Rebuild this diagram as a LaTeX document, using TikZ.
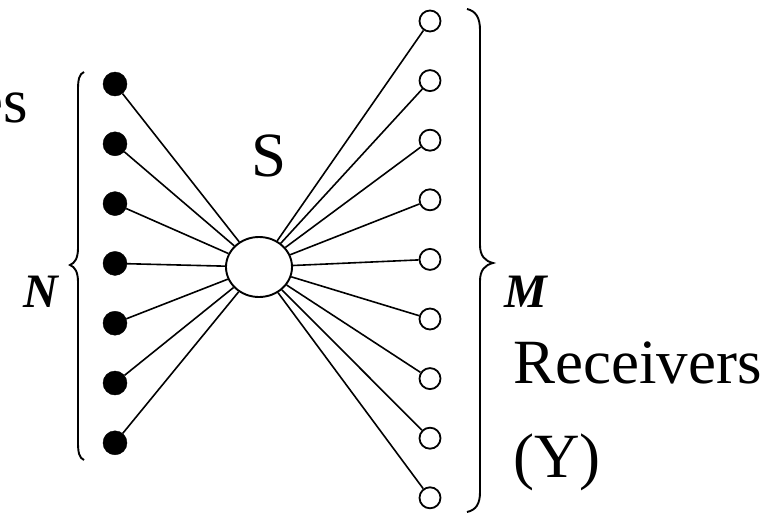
\documentclass[tikz,border=0pt]{standalone}
\usepackage{fontspec}
\setmainfont{Liberation Serif}
\usetikzlibrary{shapes.geometric}
\begin{document}
\begin{tikzpicture}[x=1pt,y=-1pt,
 src/.style={circle,fill=black,draw=black,inner sep=0pt,minimum size=24pt},
 rcv/.style={circle,fill=white,draw=black,line width=1.8pt,inner sep=0pt,minimum size=21pt},
 hubst/.style={ellipse,draw,fill=white,line width=1.9pt,minimum width=66pt,minimum height=60pt,inner sep=0pt},
 link/.style={line width=1.6pt},
 bracest/.style={line width=1.9pt},
 big/.style={font=\fontsize{63}{70}\selectfont,inner sep=0pt},
 lab/.style={font=\fontsize{48}{52}\selectfont\bfseries\itshape,inner sep=0pt}]
\useasboundingbox (0,0) rectangle (781,517);
\clip (0,0) rectangle (781,517);
\node[hubst] (hub) at (259,267) {};
\foreach \i in {1,...,7} {
  \node[src] (l\i) at (115,{84+59.8*(\i-1)}) {};
  \draw[link] (l\i) -- (hub);
}
\foreach \i in {1,...,9} {
  \node[rcv] (r\i) at (430,{21+59.6*(\i-1)}) {};
  \draw[link] (r\i) -- (hub);
}
\draw[bracest] (84,72) .. controls (79,74) and (78,80) .. (78,90) -- (78,248) .. controls (78,258) and (75,263) .. (70,265) .. controls (75,267) and (78,272) .. (78,282) -- (78,442) .. controls (78,452) and (79,458) .. (84,460);
\draw[bracest] (467,9) .. controls (476,11) and (480,18) .. (480,30) -- (480,245) .. controls (480,256) and (485,261) .. (493,263) .. controls (485,265) and (480,270) .. (480,281) -- (480,492) .. controls (480,504) and (476,510) .. (467,512);
\node[big,anchor=base east] (sources) at (28,122) {Sources};
\node[big] (slab) at (269,156) {S};
\node[lab] (nlab) at (41,292) {N};
\node[lab] (mlab) at (526,292) {M};
\node[big,anchor=base west] (recv) at (513,383) {Receivers};
\node[big,anchor=base west] (ylab) at (513,477) {(Y)};
\end{tikzpicture}
\end{document}
